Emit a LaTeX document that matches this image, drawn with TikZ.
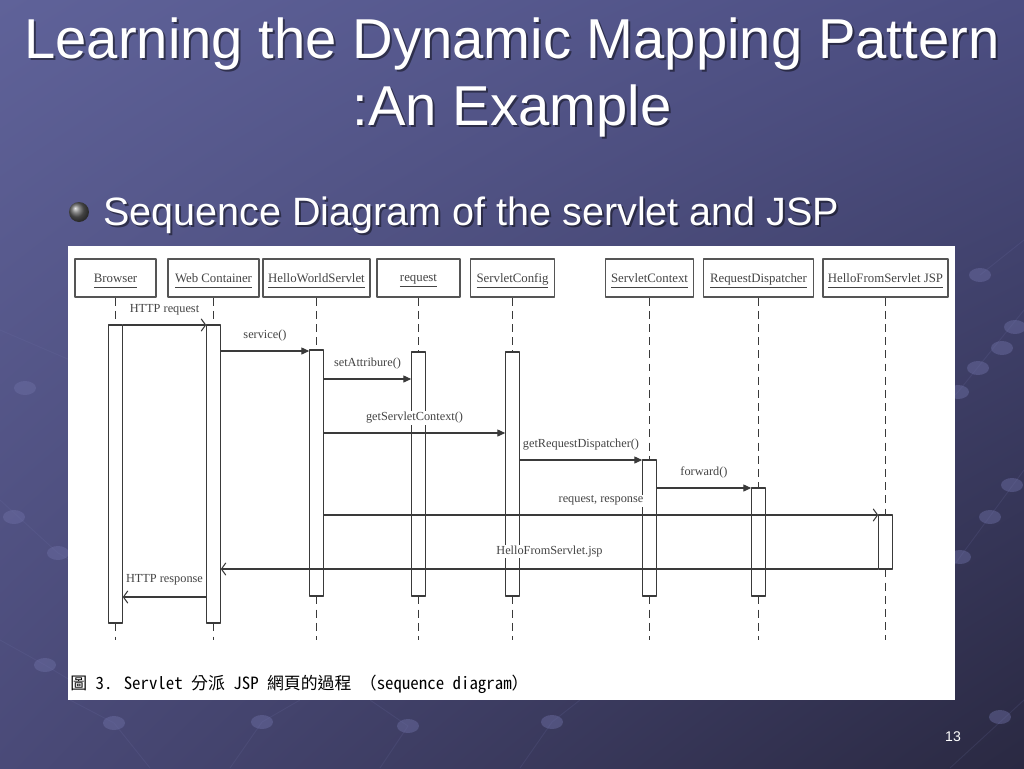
\documentclass[tikz,border=0pt]{standalone}
\usepackage{fontspec}
\setmainfont{Liberation Serif}
\newfontfamily\slidefont{Liberation Sans}
\newfontfamily\cjkfont[RawFeature=+hwid]{Noto Sans CJK TC}
\newfontfamily\cjkwide{Noto Sans CJK TC}
\usetikzlibrary{arrows.meta,shadings}
\definecolor{bgUL}{HTML}{5F6299}
\definecolor{bgUR}{HTML}{4C4E82}
\definecolor{bgLL}{HTML}{4A4A78}
\definecolor{bgLR}{HTML}{2A2942}
\definecolor{dotcol}{HTML}{6E70A6}
\definecolor{linegray}{HTML}{3A3A3A}
\definecolor{boxgray}{HTML}{555555}
\definecolor{txtgray}{HTML}{444444}
\tikzset{
  ttl/.style={font=\slidefont\fontsize{32}{38}\selectfont,text=white,anchor=base,inner sep=0pt},
  sub/.style={font=\slidefont\fontsize{22.5}{26}\selectfont,text=white,anchor=base west,inner sep=0pt},
  shd/.style={text=black,opacity=.45},
  hdr/.style={draw=boxgray,line width=0.8pt,fill=white,minimum height=0.76cm,inner sep=0pt,
    text depth=0pt,font=\fontsize{7.3}{8}\selectfont,text=txtgray},
  act/.style={draw=linegray,line width=0.6pt,fill=white,minimum width=0.27cm,inner sep=0pt},
  life/.style={draw=linegray,line width=0.9pt,dash pattern=on 4.5pt off 3pt},
  msg/.style={draw=linegray,line width=0.6pt,-{Triangle[length=4.5pt,width=4pt]}},
  ret/.style={draw=linegray,line width=0.6pt,-{Straight Barb[length=2.5pt,width=7pt]}},
  lbl/.style={font=\fontsize{7}{8}\selectfont,text=txtgray,fill=white,inner sep=0.6pt,above=4.5pt},
  deco/.style={fill=dotcol,opacity=.45},
}
\begin{document}
\begin{tikzpicture}[x=0.02cm,y=-0.02cm,line join=round]
\useasboundingbox (0,0) rectangle (1024,768);
% slide background
\shade[upper left=bgUL,upper right=bgUR,lower left=bgLL,lower right=bgLR] (0,0) rectangle (1024,768);
\draw[dotcol,opacity=.18,line width=0.5pt] (980,275)--(1024,240) (1024,310)--(958,392)--(940,410)
  (1024,470)--(960,557)--(940,585) (1024,700)--(950,768) (0,330)--(70,360) (0,500)--(58,553)--(70,560)
  (0,640)--(45,665)--(70,680) (70,700)--(114,723)--(150,768) (262,722)--(230,768) (262,722)--(300,700)
  (408,726)--(380,768) (408,726)--(370,700) (552,722)--(520,768) (552,722)--(580,700);
\foreach \x/\y in {980/275,1015/327,1002/348,978/368,958/392,1012/485,990/517,960/557,1000/717,
  25/388,14/517,58/553,45/665,114/723,262/722,408/726,552/722}
  \fill[deco] (\x,\y) ellipse [x radius=0.22cm,y radius=0.14cm];
% title and bullet
\node[ttl,shd] (t1s) at (514,60) {Learning the Dynamic Mapping Pattern};
\node[ttl] (t1) at (512,58) {Learning the Dynamic Mapping Pattern};
\node[ttl,shd] (t2s) at (514,127) {:An Example};
\node[ttl] (t2) at (512,125) {:An Example};
\shade[ball color=gray!75!black] (79,212) circle (0.2cm);
\node[sub,shd] (b1s) at (105,227) {Sequence Diagram of the servlet and JSP};
\node[sub] (b1) at (103,225) {Sequence Diagram of the servlet and JSP};
% the figure
\fill[white] (68,246) rectangle (955,700);
\foreach \n/\t/\x/\w in {br/Browser/115.5/81,wc/Web Container/213.5/91,hw/HelloWorldServlet/316.5/107,
  rq/request/418.5/83,sc/ServletConfig/512.5/84,cx/ServletContext/649.5/88,
  rd/RequestDispatcher/758.5/110,js/HelloFromServlet JSP/885.5/125}
  \node[hdr,minimum width=\w*0.02cm] (\n) at (\x,278) {\underline{\vphantom{gp}\t}};
\foreach \n/\x/\ya/\yb in {br/115.5/325/623,wc/213.5/325/623,hw/316.5/350/596,rq/418.5/352/596,
  sc/512.5/352/596,cx/649.5/460/596,rd/758.5/488/596,js/885.5/515/569}
  \node[act,minimum height={(\yb-\ya)*0.02cm}] (a\n) at (\x,{(\ya+\yb)/2}) {};
\foreach \n in {br,wc,hw,rq,sc,cx,rd,js}{
  \draw[life] (\n.south) -- (a\n.north);
  \draw[life] (a\n.south) -- (a\n.south |- 0,640);
}
% messages
\draw[ret] (abr.east |- 0,325) -- (awc.west |- 0,325) node[lbl,midway] {HTTP request};
\draw[msg] (awc.east |- 0,351) -- (ahw.west |- 0,351) node[lbl,midway] {service()};
\draw[msg] (ahw.east |- 0,379) -- (arq.west |- 0,379) node[lbl,midway] {setAttribure()};
\draw[msg] (ahw.east |- 0,433) -- (asc.west |- 0,433) node[lbl,midway] {getServletContext()};
\draw[msg] (asc.east |- 0,460) -- (acx.west |- 0,460) node[lbl,midway] {getRequestDispatcher()};
\draw[msg] (acx.east |- 0,488) -- (ard.west |- 0,488) node[lbl,midway] {forward()};
\draw[ret] (ahw.east |- 0,515) -- (ajs.west |- 0,515) node[lbl,midway] {request, response};
\draw[ret] (ajs.west |- 0,569) -- (awc.east |- 0,569) node[lbl,midway,above=1.5pt] {HelloFromServlet.jsp};
\draw[ret] (awc.west |- 0,597) -- (abr.east |- 0,597) node[lbl,midway,above=1.5pt] {HTTP response};
\node[anchor=west,inner sep=0pt,font=\cjkfont\fontsize{9.6}{11}\selectfont] (cap) at (70,684)
  {圖 3. Servlet 分派 JSP 網頁的過程 {\cjkwide （}sequence diagram{\cjkwide ）}};
\node[font=\slidefont\fontsize{8}{9}\selectfont,text=white] (pg) at (953,737) {13};
\end{tikzpicture}
\end{document}
